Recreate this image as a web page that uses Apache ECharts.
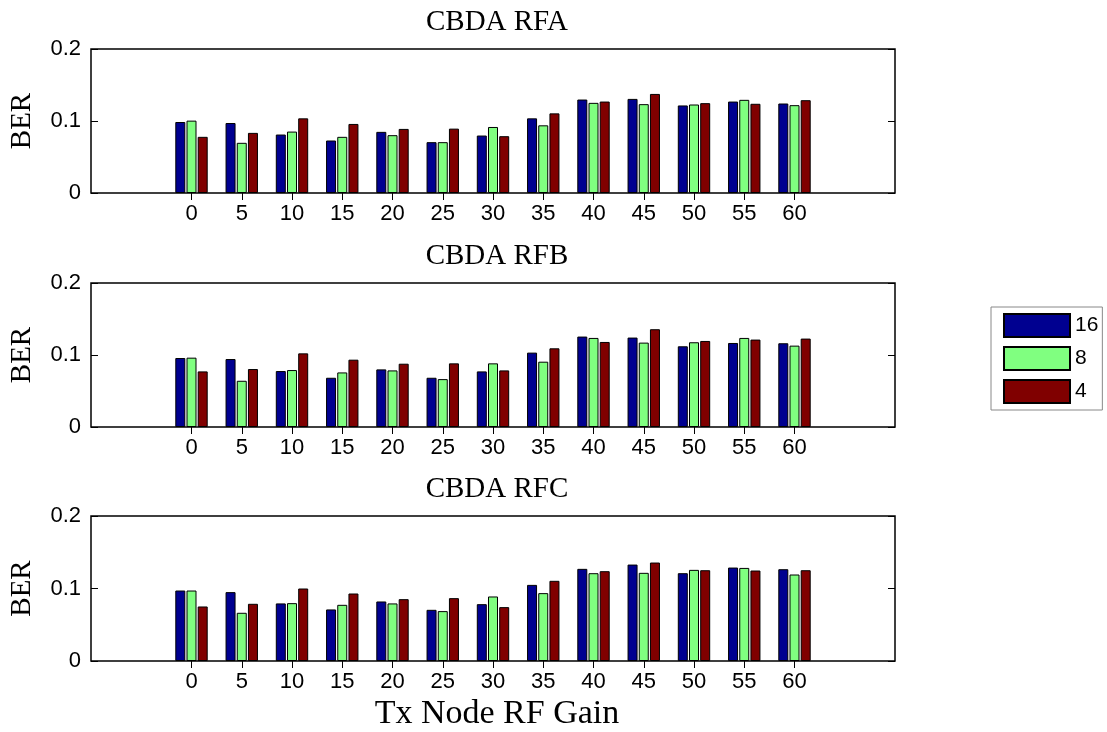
<!DOCTYPE html>
<html>
<head>
<meta charset="utf-8">
<script src="https://cdn.jsdelivr.net/npm/echarts@6/dist/echarts.min.js"></script>
<style>
html,body{margin:0;padding:0;background:#fff;}
#chart{width:1107px;height:732px;}
</style>
</head>
<body>
<div id="chart"></div>
<script>
// ---- data ----
const gains = ['0','5','10','15','20','25','30','35','40','45','50','55','60'];
const seriesNames = ['16','8','4'];
const panelTitles = ['CBDA RFA','CBDA RFB','CBDA RFC'];
const yTicks = [0, 0.1, 0.2];

const rfa16 = [0.0986,0.0972,0.0812,0.0729,0.0849,0.0706,0.0798,0.1037,0.1298,0.1307,0.1216,0.1270,0.1243];
const rfa8  = [0.1005,0.0697,0.0853,0.0780,0.0803,0.0706,0.0917,0.0940,0.1252,0.1234,0.1229,0.1294,0.1220];
const rfa4  = [0.0780,0.0835,0.1037,0.0959,0.0890,0.0894,0.0789,0.1106,0.1270,0.1376,0.1248,0.1239,0.1289];

const rfb16 = [0.0958,0.0944,0.0777,0.0684,0.0800,0.0684,0.0772,0.1033,0.1256,0.1242,0.1121,0.1167,0.1163];
const rfb8  = [0.0963,0.0642,0.0791,0.0758,0.0786,0.0665,0.0884,0.0907,0.1237,0.1172,0.1177,0.1237,0.1130];
const rfb4  = [0.0772,0.0805,0.1023,0.0935,0.0879,0.0884,0.0786,0.1093,0.1181,0.1358,0.1195,0.1214,0.1228];

const rfc16 = [0.0972,0.0950,0.0794,0.0711,0.0821,0.0706,0.0784,0.1050,0.1271,0.1330,0.1211,0.1289,0.1266];
const rfc8  = [0.0972,0.0665,0.0798,0.0775,0.0794,0.0688,0.0890,0.0936,0.1211,0.1216,0.1257,0.1284,0.1193];
const rfc4  = [0.0752,0.0789,0.1000,0.0931,0.0853,0.0867,0.0743,0.1106,0.1239,0.1358,0.1252,0.1248,0.1252];

const panels = [[rfa16, rfa8, rfa4],[rfb16, rfb8, rfb4],[rfc16, rfc8, rfc4]];
const colors = ['#000090','#80ff80','#800000'];

// ---- layout ----
const PAD = 2;
const cats = [];
for (let i = 0; i < PAD; i++) cats.push('padL' + i);
gains.forEach(g => cats.push(g));
for (let i = 0; i < PAD; i++) cats.push('padR' + i);
const isReal = (i) => i >= PAD && i < PAD + gains.length;
const padData = (arr) => { const o = []; for (let i=0;i<PAD;i++) o.push('-'); arr.forEach(v=>o.push(v)); for (let i=0;i<PAD;i++) o.push('-'); return o; };

const gridTops = [49, 283, 516];
const gridHeights = [144, 144, 145];
const sans = 'Liberation Sans';
const serif = 'Liberation Serif';

const grid = [], xAxis = [], yAxis = [], series = [], title = [];
gridTops.forEach((t, g) => {
  grid.push({left: 90, width: 805, top: t, height: gridHeights[g], show: true, borderColor: '#000', borderWidth: 1.5, backgroundColor: 'transparent'});
  title.push({text: panelTitles[g], left: 492, top: t - 46, textAlign: 'center',
    textStyle: {fontFamily: serif, fontSize: 29, fontWeight: 'normal', color: '#000'}});
});
gridTops.forEach((t, g) => {
  xAxis.push({type: 'category', gridIndex: g, data: cats, boundaryGap: false, position: 'bottom',
    axisLine: {show: false},
    axisTick: {inside: true, length: 7, interval: (i) => isReal(i), lineStyle: {color: '#000'}},
    axisLabel: {interval: (i) => isReal(i), margin: 10, fontFamily: sans, fontSize: 22, color: '#000'},
    splitLine: {show: false}});
});
gridTops.forEach((t, g) => {
  xAxis.push({type: 'category', gridIndex: g, data: cats, boundaryGap: false, position: 'top',
    axisLine: {show: false},
    axisTick: {inside: true, length: 7, interval: (i) => isReal(i), lineStyle: {color: '#000'}},
    axisLabel: {show: false}, splitLine: {show: false}});
});
gridTops.forEach((t, g) => {
  yAxis.push({type: 'value', gridIndex: g, min: yTicks[0], max: yTicks[yTicks.length-1], interval: 0.1, position: 'left',
    name: 'BER', nameLocation: 'middle', nameGap: 54, nameRotate: 90,
    nameTextStyle: {fontFamily: serif, fontSize: 29, color: '#000'},
    axisLine: {show: false},
    axisTick: {show: true, inside: true, length: 7, lineStyle: {color: '#000'}},
    axisLabel: {margin: 10, fontFamily: sans, fontSize: 22, color: '#000'},
    splitLine: {show: false}});
});
gridTops.forEach((t, g) => {
  yAxis.push({type: 'value', gridIndex: g, min: yTicks[0], max: yTicks[yTicks.length-1], interval: 0.1, position: 'right',
    axisLine: {show: false},
    axisTick: {show: true, inside: true, length: 7, lineStyle: {color: '#000'}},
    axisLabel: {show: false}, splitLine: {show: false}});
});
panels.forEach((vals, g) => {
  vals.forEach((arr, s) => {
    series.push({type: 'bar', name: seriesNames[s], xAxisIndex: g, yAxisIndex: g,
      data: padData(arr), barWidth: 10, barGap: '12%',
      itemStyle: {color: colors[s], borderColor: '#000', borderWidth: 1},
      emphasis: {disabled: true}, animation: false});
  });
});
title.push({text: 'Tx Node RF Gain', left: 492, top: 692, textAlign: 'center',
  textStyle: {fontFamily: serif, fontSize: 34, fontWeight: 'normal', color: '#000'}});

const chart = echarts.init(document.getElementById('chart'), null, {renderer: 'canvas'});
chart.setOption({
  backgroundColor: '#fff',
  animation: false,
  title: title,
  grid: grid,
  xAxis: xAxis,
  yAxis: yAxis,
  legend: {data: seriesNames, orient: 'vertical', left: 991, top: 307,
    padding: [6, 4, 6, 12], itemWidth: 66, itemHeight: 23, itemGap: 8,
    borderColor: '#888', borderWidth: 1, icon: 'rect',
    textStyle: {fontFamily: sans, fontSize: 21, color: '#000'}},
  series: series
});
</script>
</body>
</html>
